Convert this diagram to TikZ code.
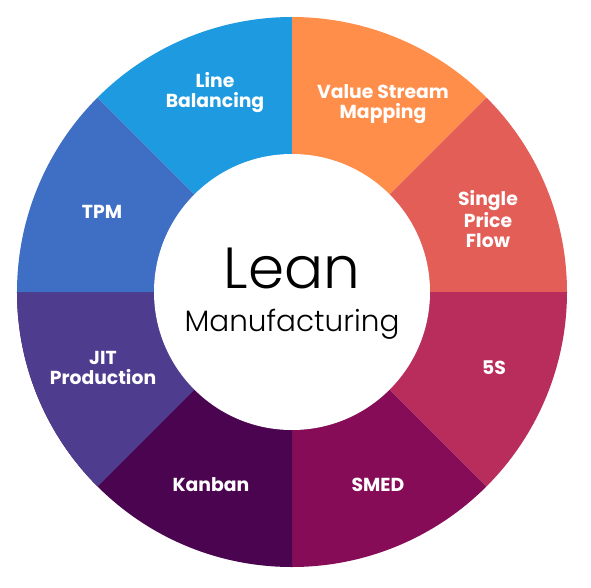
\documentclass[tikz,border=0pt]{standalone}
\usepackage{fontspec}
\setmainfont{Poppins}
\newfontfamily\thinfont{Poppins}[UprightFont=* Light]
\usepackage{tikz}
\usetikzlibrary{positioning}
\usepackage{xcolor}

\definecolor{lbblue}{HTML}{1E9AE0}
\definecolor{vsmorange}{HTML}{FF8E4B}
\definecolor{spfred}{HTML}{E45E58}
\definecolor{fivespink}{HTML}{B92D5C}
\definecolor{smedplum}{HTML}{870C58}
\definecolor{kanbanpurple}{HTML}{4B0550}
\definecolor{jitviolet}{HTML}{4E3C8F}
\definecolor{tpmblue}{HTML}{3F6FC4}

\begin{document}
\begin{tikzpicture}[x=1pt, y=1pt,
  label/.style={text=white, font=\bfseries\fontsize{18.8}{20}\selectfont, align=center, inner sep=0pt}]
\useasboundingbox (-292,-295) rectangle (299,292);
% wedges of the ring
\fill[lbblue]       (0,0) -- (90:275pt)  arc[start angle=90,  end angle=135, radius=275pt] -- cycle;
\fill[vsmorange]    (0,0) -- (45:275pt)  arc[start angle=45,  end angle=90,  radius=275pt] -- cycle;
\fill[spfred]       (0,0) -- (0:275pt)   arc[start angle=0,   end angle=45,  radius=275pt] -- cycle;
\fill[fivespink]    (0,0) -- (-45:275pt) arc[start angle=-45, end angle=0,   radius=275pt] -- cycle;
\fill[smedplum]     (0,0) -- (-90:275pt) arc[start angle=-90, end angle=-45, radius=275pt] -- cycle;
\fill[kanbanpurple] (0,0) -- (180:275pt) arc[start angle=180, end angle=270, radius=275pt] -- cycle;
\fill[jitviolet]    (0,0) -- (180:275pt) arc[start angle=180, end angle=225, radius=275pt] -- cycle;
\fill[tpmblue]      (0,0) -- (135:275pt) arc[start angle=135, end angle=180, radius=275pt] -- cycle;
% hub
\node[circle, fill=white, minimum size=276pt, inner sep=0pt] (hub) at (0,0) {};
\node[font=\thinfont\fontsize{58}{62}\selectfont, inner sep=0pt] (lean) at (0,24) {Lean};
\node[font=\thinfont\fontsize{29.5}{32}\selectfont, inner sep=0pt] (manuf) at (0,-32) {Manufacturing};
% labels
\node[label] (linebal) at (-77,199) {Line\\Balancing};
\node[label] (vsm) at (91,188) {Value Stream\\Mapping};
\node[label] (spf) at (196,73) {Single\\Price\\Flow};
\node[label] (fives) at (202,-76) {5S};
\node[label] (smed) at (86,-193) {SMED};
\node[label] (kanban) at (-81,-193) {Kanban};
\node[label] (jit) at (-189,-76) {JIT\\Production};
\node[label] (tpm) at (-190,80) {TPM};
\end{tikzpicture}
\end{document}
